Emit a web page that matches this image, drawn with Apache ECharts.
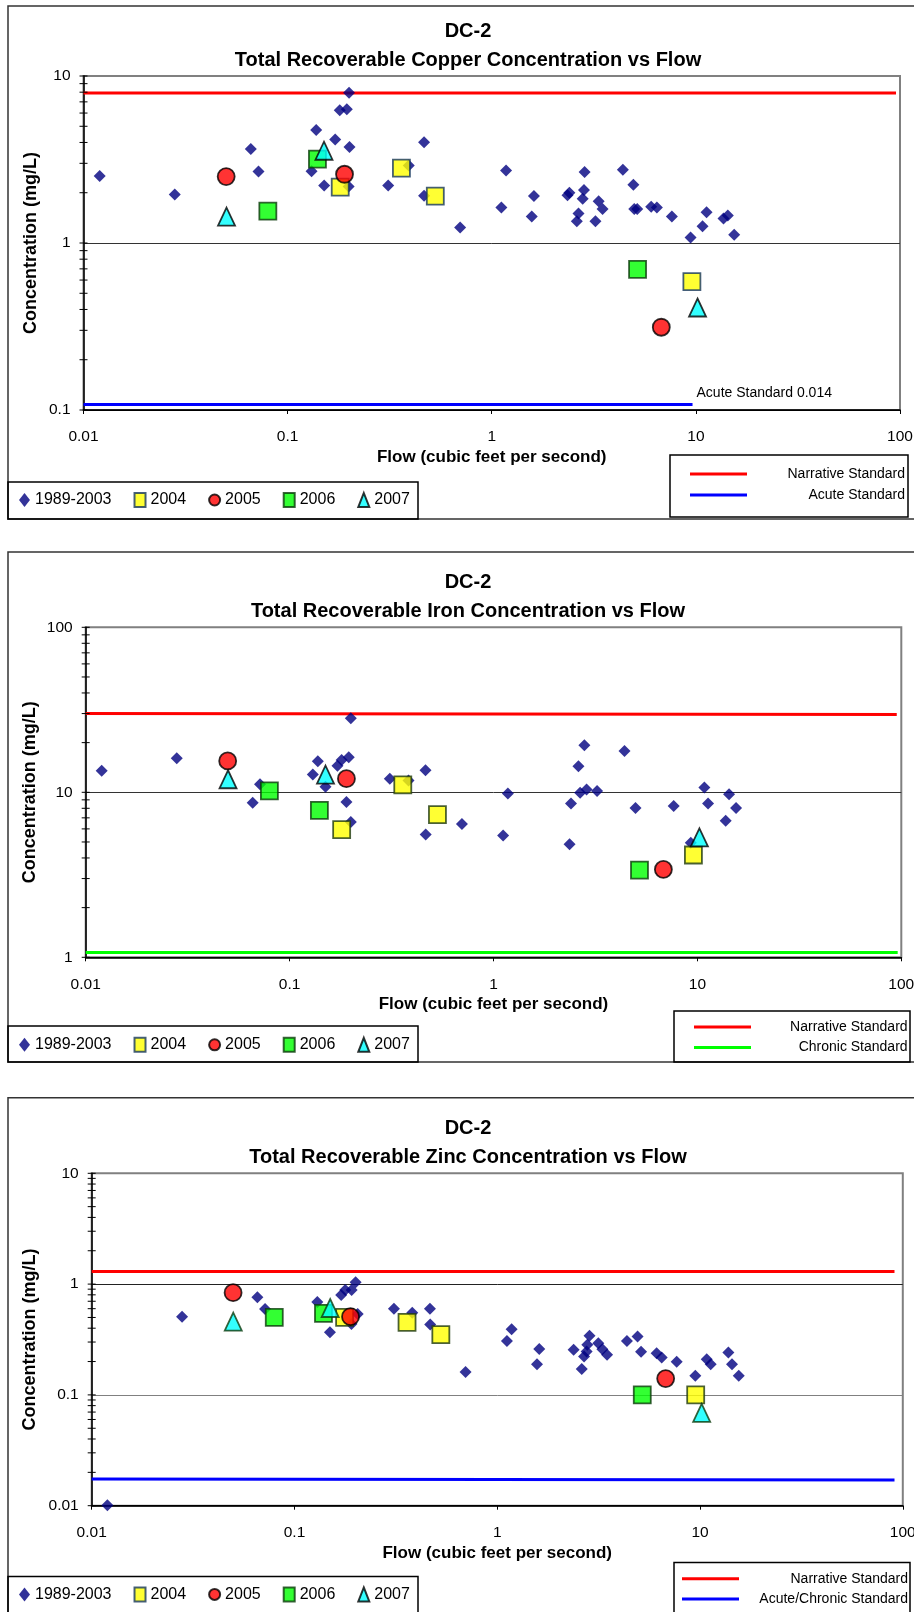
<!DOCTYPE html>
<html><head><meta charset="utf-8">
<script src="https://cdn.jsdelivr.net/npm/echarts@6/dist/echarts.min.js"></script>
<style>html,body{margin:0;padding:0;background:#fff}#c{width:914px;height:1612px}</style>
</head><body><div id="c"></div><script>
// ---------- DATA ----------
const seriesNames = ['1989-2003','2004','2005','2006','2007'];
const xTickLabels = ['0.01','0.1','1','10','100'];

// Copper
const cuHist = [[0.012,2.52],[0.028,1.95],[0.066,3.65],[0.072,2.68],[0.131,2.69],[0.138,4.75],[0.151,2.21],[0.171,4.16],[0.180,6.24],[0.195,6.32],
  [0.200,7.95],[0.201,3.76],[0.199,2.18],[0.311,2.21],[0.392,2.91],[0.466,4.01],[0.466,1.92],[0.700,1.24],
  [1.115,1.63],[1.175,2.72],[1.57,1.44],[1.61,1.91],[2.35,1.93],[2.40,2.00],[2.61,1.35],[2.66,1.50],[2.79,1.84],[2.83,2.08],[2.85,2.66],
  [3.22,1.35],[3.34,1.78],[3.49,1.60],[4.39,2.75],[4.94,2.23],[4.99,1.60],[5.16,1.60],[6.04,1.65],[6.44,1.63],[7.63,1.44],
  [9.42,1.08],[10.78,1.26],[11.28,1.53],[13.66,1.40],[14.34,1.46],[15.41,1.12]];
const cu2004 = [[0.181,2.16],[0.361,2.81],[0.529,1.91],[9.56,0.587]];
const cu2005 = [[0.050,2.50],[0.190,2.58],[6.77,0.313]];
const cu2006 = [[0.080,1.55],[0.140,3.18],[5.18,0.696]];
const cu2007 = [[0.0502,1.44],[0.1507,3.57],[10.19,0.411]];
const cuNarrative = [[0.01,7.9],[95.6,7.9]];
const cuAcute = [[0.01,0.108],[9.63,0.108]];
const cuYTickLabels = ['0.1','1','10'];

// Iron
const feHist = [[0.01198,13.5],[0.02796,16.1],[0.0659,8.65],[0.0716,11.2],[0.130,12.8],[0.1375,15.4],[0.150,10.8],[0.1717,14.5],[0.180,15.7],[0.195,16.3],
  [0.1996,28.1],[0.190,8.74],[0.1996,6.6],[0.310,12.1],[0.383,11.8],[0.464,13.6],[0.465,5.54],[0.700,6.43],
  [1.176,9.82],[1.115,5.48],[2.36,4.84],[2.40,8.54],[2.61,14.4],[2.79,19.3],[2.66,9.95],[2.86,10.4],[3.22,10.2],[4.39,17.8],
  [4.97,8.04],[7.65,8.26],[10.82,10.7],[11.28,8.54],[14.3,9.72],[13.76,6.73],[15.47,8.04],[9.28,4.95]];
const fe2004 = [[0.359,11.1],[0.531,7.32],[0.180,5.94],[9.56,4.17]];
const fe2005 = [[0.0497,15.5],[0.190,12.1],[6.81,3.41]];
const fe2006 = [[0.0796,10.2],[0.140,7.78],[5.20,3.38]];
const fe2007 = [[0.0499,12.0],[0.150,12.8],[10.23,5.33]];
const feNarrative = [[0.01,30.0],[95,29.6]];
const feChronic = [[0.01,1.07],[96,1.07]];
const feYTickLabels = ['1','10','100'];

// Zinc
const znHist = [[0.01195,0.0101],[0.0279,0.508],[0.0656,0.759],[0.0716,0.596],[0.1296,0.689],[0.1496,0.367],[0.170,0.797],[0.178,0.885],[0.1914,0.885],[0.2003,1.04],
  [0.205,0.537],[0.191,0.436],[0.3095,0.60],[0.381,0.552],[0.4656,0.60],[0.467,0.431],[0.698,0.161],
  [1.177,0.392],[1.116,0.307],[1.611,0.26],[1.57,0.189],[2.38,0.255],[2.61,0.171],[2.68,0.222],[2.76,0.246],[2.78,0.283],[2.85,0.341],
  [3.15,0.293],[3.30,0.258],[3.48,0.230],[4.36,0.307],[4.92,0.336],[5.12,0.245],[6.11,0.238],[6.47,0.217],[7.67,0.199],
  [9.48,0.149],[10.79,0.21],[11.29,0.189],[13.8,0.241],[14.38,0.189],[15.52,0.149]];
const zn2004 = [[0.1767,0.501],[0.359,0.452],[0.527,0.35],[9.52,0.1]];
const zn2005 = [[0.0498,0.837],[0.189,0.508],[6.77,0.1405]];
const zn2006 = [[0.0795,0.501],[0.139,0.545],[5.19,0.1]];
const zn2007 = [[0.0499,0.458],[0.150,0.609],[10.19,0.0688]];
const znNarrative = [[0.01,1.30],[91,1.30]];
const znAcuteChronic = [[0.01,0.0174],[91,0.0171]];
const znYTickLabels = ['0.01','0.1','1','10'];

const yMantissas = [1,2,3,4,5,6,7,8,9];

// ---------- LAYOUT ----------
const FONT = "'Liberation Sans', Arial, Helvetica, sans-serif";
const panels = [
  {title:'DC-2\nTotal Recoverable Copper Concentration vs Flow', titleTop:16.5,
   grid:[83.5,76,816.5,334], yLabels:cuYTickLabels, yNameGap:43, split:['#000','#333','#808080'],
   data:[cuHist,cu2004,cu2005,cu2006,cu2007], border04:'#17375E', border06:'#0B3B0B', border07:'#000',
   stdA:{name:'Narrative Standard', data:cuNarrative, color:'#FF0000'},
   stdB:{name:'Acute Standard', data:cuAcute, color:'#0000FF', endText:'Acute Standard 0.014'},
   frame:[8,6,930,513], blBox:[8,482,410,37], blCenter:501,
   rBox:[670,455,238,62], rLeft:690, rTop:474, rStep:21, rRight:905},
  {title:'DC-2\nTotal Recoverable Iron Concentration vs Flow', titleTop:568,
   grid:[85.7,627.3,815.6,330], yLabels:feYTickLabels, yNameGap:47, split:['#000','#333','#808080'],
   data:[feHist,fe2004,fe2005,fe2006,fe2007], border04:'#1E3A0F', border06:'#0B3B0B', border07:'#000',
   stdA:{name:'Narrative Standard', data:feNarrative, color:'#FF0000'},
   stdB:{name:'Chronic Standard', data:feChronic, color:'#00FF00'},
   frame:[8,552,930,510], blBox:[8,1026,410,36], blCenter:1045.8,
   rBox:[674,1011,236,51], rLeft:694, rTop:1027, rStep:20.5, rRight:907.6},
  {title:'DC-2\nTotal Recoverable Zinc Concentration vs Flow', titleTop:1113.5,
   grid:[91.7,1173.3,811.1,332.4], yLabels:znYTickLabels, yNameGap:53, split:['#000','#808080','#222','#808080'],
   data:[znHist,zn2004,zn2005,zn2006,zn2007], border04:'#1E3A0F', border06:'#0B3B0B', border07:'#0B3B0B',
   stdA:{name:'Narrative Standard', data:znNarrative, color:'#FF0000'},
   stdB:{name:'Acute/Chronic Standard', data:znAcuteChronic, color:'#0000FF'},
   frame:[8,1097.7,930,530], blBox:[8,1576.4,410,40], blCenter:1595.4,
   rBox:[674,1562.6,236,55], rLeft:682, rTop:1578.8, rStep:20.1, rRight:908}
];

const option = {animation:false, backgroundColor:'#fff', title:[], grid:[], xAxis:[], yAxis:[], legend:[], series:[], graphic:[]};

panels.forEach((p,i)=>{
  const [gl,gt,gw,gh] = p.grid;
  const yMin = parseFloat(p.yLabels[0]), yMax = parseFloat(p.yLabels[p.yLabels.length-1]);
  option.title.push({text:p.title, left:468, top:p.titleTop, textAlign:'center', padding:0,
    textStyle:{fontFamily:FONT, fontSize:20, fontWeight:'bold', color:'#000', lineHeight:29}});
  option.grid.push({left:gl, top:gt, width:gw, height:gh, show:true, borderColor:'#808080', borderWidth:2,
    backgroundColor:'#fff', containLabel:false, outerBoundsMode:'none'});
  option.xAxis.push({type:'log', logBase:10, gridIndex:i, min:parseFloat(xTickLabels[0]), max:parseFloat(xTickLabels[4]),
    name:'Flow (cubic feet per second)', nameLocation:'middle', nameGap:39, nameMoveOverlap:false,
    nameTextStyle:{fontFamily:FONT, fontSize:17, fontWeight:'bold', color:'#000'},
    axisLine:{show:true, onZero:false, lineStyle:{color:'#000', width:1.5}},
    axisTick:{show:true, length:4, inside:false, lineStyle:{color:'#000', width:1}},
    axisLabel:{fontFamily:FONT, fontSize:15.5, color:'#000', margin:19, formatter:(v)=>String(+v.toPrecision(6))},
    splitLine:{show:false}, minorTick:{show:false}, minorSplitLine:{show:false}});
  option.yAxis.push({type:'log', logBase:10, gridIndex:i, min:yMin, max:yMax,
    name:'Concentration (mg/L)', nameLocation:'middle', nameGap:p.yNameGap, nameRotate:90, nameMoveOverlap:false,
    nameTextStyle:{fontFamily:FONT, fontSize:18, fontWeight:'bold', color:'#000'},
    axisLine:{show:true, onZero:false, lineStyle:{color:'#000', width:1.5}},
    axisTick:{show:false},
    axisLabel:{fontFamily:FONT, fontSize:15.5, color:'#000', margin:13, formatter:(v)=>String(+v.toPrecision(6))},
    splitLine:{show:true, lineStyle:{color:p.split, width:1}}, minorTick:{show:false}});

  // y ticks (crossing the axis) on the log scale
  const ticks = [];
  for (let e = Math.round(Math.log10(yMin)); e < Math.round(Math.log10(yMax)); e++) {
    yMantissas.forEach(m => ticks.push([parseFloat(xTickLabels[0]), +(m*Math.pow(10,e)).toPrecision(6)]));
  }
  ticks.push([parseFloat(xTickLabels[0]), yMax]);
  option.series.push({type:'custom', name:'yticks'+i, xAxisIndex:i, yAxisIndex:i, silent:true, clip:false, z:20,
    data:ticks, renderItem:(params, api)=>{
      const c = api.coord([api.value(0), api.value(1)]);
      return {type:'line', shape:{x1:c[0]-4, y1:c[1], x2:c[0]+4, y2:c[1]}, style:{stroke:'#000', lineWidth:1}};
    }});

  // standards lines
  option.series.push({type:'line', name:p.stdA.name, xAxisIndex:i, yAxisIndex:i, data:p.stdA.data, symbol:'none', z:3,
    lineStyle:{color:p.stdA.color, width:3}, itemStyle:{color:p.stdA.color}});
  const sB = {type:'line', name:p.stdB.name, xAxisIndex:i, yAxisIndex:i, data:p.stdB.data, symbol:'none', z:3,
    lineStyle:{color:p.stdB.color, width:3}, itemStyle:{color:p.stdB.color}};
  if (p.stdB.endText) {
    sB.endLabel = {show:true, formatter:p.stdB.endText, fontFamily:FONT, fontSize:14, color:'#000', distance:4, offset:[0,-11.5]};
  }
  option.series.push(sB);

  // scatter series
  const styles = [
    {symbol:'diamond', size:12, item:{color:'#000080'}},
    {symbol:'rect', size:17, item:{color:'#FFFF00', borderColor:p.border04, borderWidth:1.8}},
    {symbol:'circle', size:17, item:{color:'#FF0000', borderColor:'#000', borderWidth:1.8}},
    {symbol:'rect', size:17, item:{color:'#00FF00', borderColor:p.border06, borderWidth:1.8}},
    {symbol:'triangle', size:[17,18], item:{color:'#00FFFF', borderColor:p.border07, borderWidth:1.8}}
  ];
  seriesNames.forEach((nm,k)=>{
    option.series.push({type:'scatter', name:nm, xAxisIndex:i, yAxisIndex:i, data:p.data[k],
      symbol:styles[k].symbol, symbolSize:styles[k].size, itemStyle:styles[k].item, z:5+k, clip:false});
  });

  // legends
  option.legend.push({data:seriesNames, orient:'horizontal', left:19, top:p.blCenter-9, padding:0,
    itemWidth:11, itemHeight:14, itemGap:22, selectedMode:false,
    textStyle:{fontFamily:FONT, fontSize:16, color:'#000'}});
  const rw = p.rRight - (p.rLeft + 57 + 5);
  option.legend.push({data:[p.stdA.name, p.stdB.name], orient:'vertical', left:p.rLeft, top:p.rTop-8, padding:0,
    itemWidth:57, itemHeight:3, itemGap:p.rStep-16, icon:'rect', selectedMode:false,
    formatter:(n)=>'{r|'+n+'}',
    textStyle:{fontFamily:FONT, fontSize:14, color:'#000', rich:{r:{width:rw, align:'right', fontFamily:FONT, fontSize:14, color:'#000', height:16, lineHeight:16}}}});

  // frames and legend boxes
  option.graphic.push({type:'rect', shape:{x:p.frame[0], y:p.frame[1], width:p.frame[2], height:p.frame[3]}, style:{fill:null, stroke:'#333', lineWidth:1.5}, silent:true, z:-1});
  option.graphic.push({type:'rect', shape:{x:p.blBox[0], y:p.blBox[1], width:p.blBox[2], height:p.blBox[3]}, style:{fill:null, stroke:'#000', lineWidth:1.5}, silent:true});
  option.graphic.push({type:'rect', shape:{x:p.rBox[0], y:p.rBox[1], width:p.rBox[2], height:p.rBox[3]}, style:{fill:null, stroke:'#000', lineWidth:1.5}, silent:true});
});

const chart = echarts.init(document.getElementById('c'), null, {renderer:'canvas'});
chart.setOption(option);
</script></body></html>
